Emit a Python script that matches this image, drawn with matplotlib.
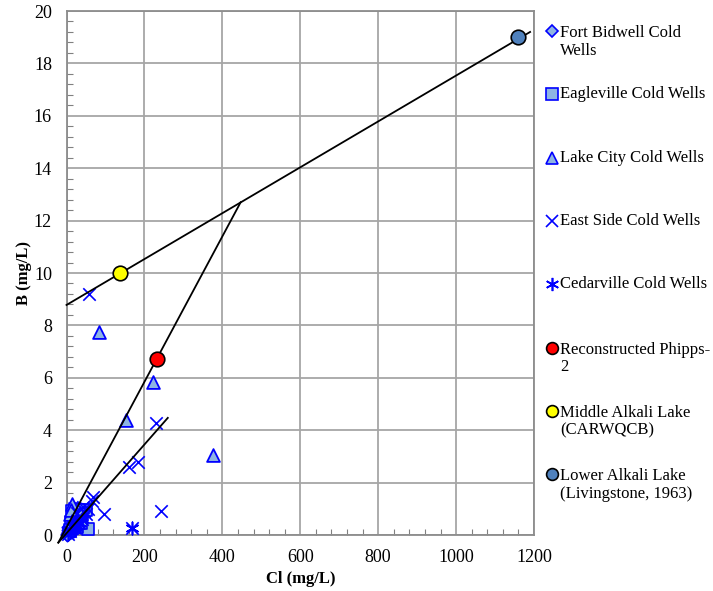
import matplotlib
matplotlib.use("Agg")
import matplotlib.pyplot as plt
from matplotlib.lines import Line2D
from matplotlib.ticker import MultipleLocator

plt.rcParams['font.family'] = ['Liberation Serif', 'DejaVu Serif']

# ---- data (Cl mg/L, B mg/L) ----
fb_cl = [2, 4, 5, 7, 8, 10, 12, 14, 16, 18, 20, 22, 25, 28, 30, 6, 9, 11, 13, 3, 1, 4, 15, 24, 33]
fb_b = [0.05, 0.10, 0.20, 0.15, 0.30, 0.25, 0.35, 0.20, 0.40, 0.30, 0.45, 0.35, 0.50, 0.40, 0.55,
        0.08, 0.18, 0.12, 0.28, 0.02, 0.00, 0.30, 0.60, 0.65, 0.70]

eg_cl = [56, 15, 20, 25, 30, 35, 40, 45, 12, 18, 28, 38, 50, 8, 22, 32]
eg_b = [0.22, 0.90, 0.80, 0.70, 0.85, 0.60, 0.75, 0.90, 0.50, 0.40, 0.30, 0.45, 0.95, 0.20, 1.00, 0.95]

lc_cl = [83, 221, 153, 377, 15, 10, 20, 25, 30, 6, 35, 12, 18]
lc_b = [7.76, 5.85, 4.40, 3.07, 1.18, 0.80, 0.60, 0.70, 0.50, 0.30, 0.85, 0.95, 0.40]

es_cl = [58, 229, 184, 161, 242, 97, 69, 65, 167, 45, 50, 40, 35, 30, 25, 20, 15, 10, 5, 55, 42, 28]
es_b = [9.20, 4.29, 2.80, 2.58, 0.93, 0.79, 1.46, 1.30, 0.28, 0.90, 0.80, 0.60, 0.70, 0.50, 0.40,
        0.30, 0.25, 0.15, 0.05, 1.00, 1.05, 0.85]

cd_cl = [167, 10, 15, 20, 25, 30, 35, 40, 8, 12, 18, 22, 5, 28]
cd_b = [0.28, 0.20, 0.30, 0.40, 0.35, 0.50, 0.45, 0.60, 0.10, 0.15, 0.25, 0.20, 0.05, 0.65]

phipps_cl = [232]
phipps_b = [6.71]
middle_cl = [137]
middle_b = [10.0]
lower_cl = [1158]
lower_b = [19.0]

# mixing / trend lines (endpoints)
line1_cl = [0, 1190]
line1_b = [8.78, 19.2]
line2_cl = [-21, 447]
line2_b = [-0.29, 12.7]
line3_cl = [-21, 260]
line3_b = [-0.29, 4.47]

xticks = [0, 200, 400, 600, 800, 1000, 1200]
yticks = [0, 2, 4, 6, 8, 10, 12, 14, 16, 18, 20]

# ---- figure ----
fig = plt.figure(figsize=(7.13, 5.91), dpi=100)
ax = fig.add_axes([66.5 / 713, (591 - 535) / 591, (534 - 66.5) / 713, (535 - 11) / 591])

blue = '#0000ff'
fill = '#8eb4e3'

for lx, ly in [(line1_cl, line1_b), (line2_cl, line2_b), (line3_cl, line3_b)]:
    ax.plot(lx, ly, color='black', lw=1.3, zorder=6, clip_on=False)

ax.scatter(fb_cl, fb_b, marker='D', s=40, facecolor=fill, edgecolor=blue, linewidth=1.2, zorder=4, clip_on=False)
ax.scatter(eg_cl, eg_b, marker='s', s=85, facecolor=fill, edgecolor=blue, linewidth=1.2, zorder=4, clip_on=False)
ax.scatter(lc_cl, lc_b, marker='^', s=85, facecolor=fill, edgecolor=blue, linewidth=1.3, zorder=4, clip_on=False)
ax.scatter(es_cl, es_b, marker='x', s=80, color=blue, linewidth=1.2, zorder=4, clip_on=False)
ax.scatter(cd_cl, cd_b, marker=(6, 2, 0), s=80, color=blue, linewidth=1.2, zorder=4, clip_on=False)
ax.scatter(phipps_cl, phipps_b, marker='o', s=110, facecolor='#ff0000', edgecolor='black', linewidth=1.2, zorder=7)
ax.scatter(middle_cl, middle_b, marker='o', s=110, facecolor='#ffff00', edgecolor='black', linewidth=1.2, zorder=7)
ax.scatter(lower_cl, lower_b, marker='o', s=110, facecolor='#4f81bd', edgecolor='black', linewidth=1.2, zorder=7)

ax.set_xlim(0, 1200)
ax.set_ylim(0, 20)
ax.set_xticks(xticks)
ax.set_yticks(yticks)
ax.xaxis.set_minor_locator(MultipleLocator(40))
ax.yaxis.set_minor_locator(MultipleLocator(0.4))
ax.tick_params(which='both', direction='in', colors='#808080', labelcolor='black', labelsize=13)
ax.tick_params(which='major', length=0)
ax.tick_params(axis='x', which='major', pad=10)
ax.tick_params(axis='y', which='major', pad=10.5)
ax.tick_params(which='minor', length=4, width=0.8)
ax.grid(True, which='major', color='#a6a6a6', lw=1.3)
ax.set_axisbelow(True)
for s in ax.spines.values():
    s.set_color('#8c8c8c')
    s.set_linewidth(1.3)

ax.set_xlabel('Cl (mg/L)', fontsize=12, fontweight='bold', labelpad=4)
ax.set_ylabel('B (mg/L)', fontsize=12, fontweight='bold', labelpad=1)

# ---- legend (manual, right side) ----
leg = [
    ('D', fill, blue, 'Fort Bidwell Cold\nWells', 6.5),
    ('s', fill, blue, 'Eagleville Cold Wells', 8),
    ('^', fill, blue, 'Lake City Cold Wells', 8),
    ('x', blue, blue, 'East Side Cold Wells', 8),
    ((6, 2, 0), blue, blue, 'Cedarville Cold Wells', 9.5),
    ('o', '#ff0000', 'black', 'Reconstructed Phipps-\n2', 8.5),
    ('o', '#ffff00', 'black', 'Middle Alkali Lake\n(CARWQCB)', 8.5),
    ('o', '#4f81bd', 'black', 'Lower Alkali Lake\n(Livingstone, 1963)', 8.5),
]
y0 = 31
for i, (m, fc, ec, lab, ms) in enumerate(leg):
    ypx = y0 + i * 63.3
    yf = 1 - ypx / 591
    fig.add_artist(Line2D([552 / 713], [yf], transform=fig.transFigure, marker=m, ms=ms,
                          markerfacecolor=fc, markeredgecolor=ec, mew=1.2, linestyle='none'))
    if '\n' in lab:
        fig.text(560 / 713, 1 - (ypx - 6) / 591, lab, fontsize=12, va='top', ha='left',
                 linespacing=1.15, transform=fig.transFigure)
    else:
        fig.text(560 / 713, yf, lab, fontsize=12, va='center', ha='left',
                 transform=fig.transFigure)

fig.savefig('out.png', dpi=100)
